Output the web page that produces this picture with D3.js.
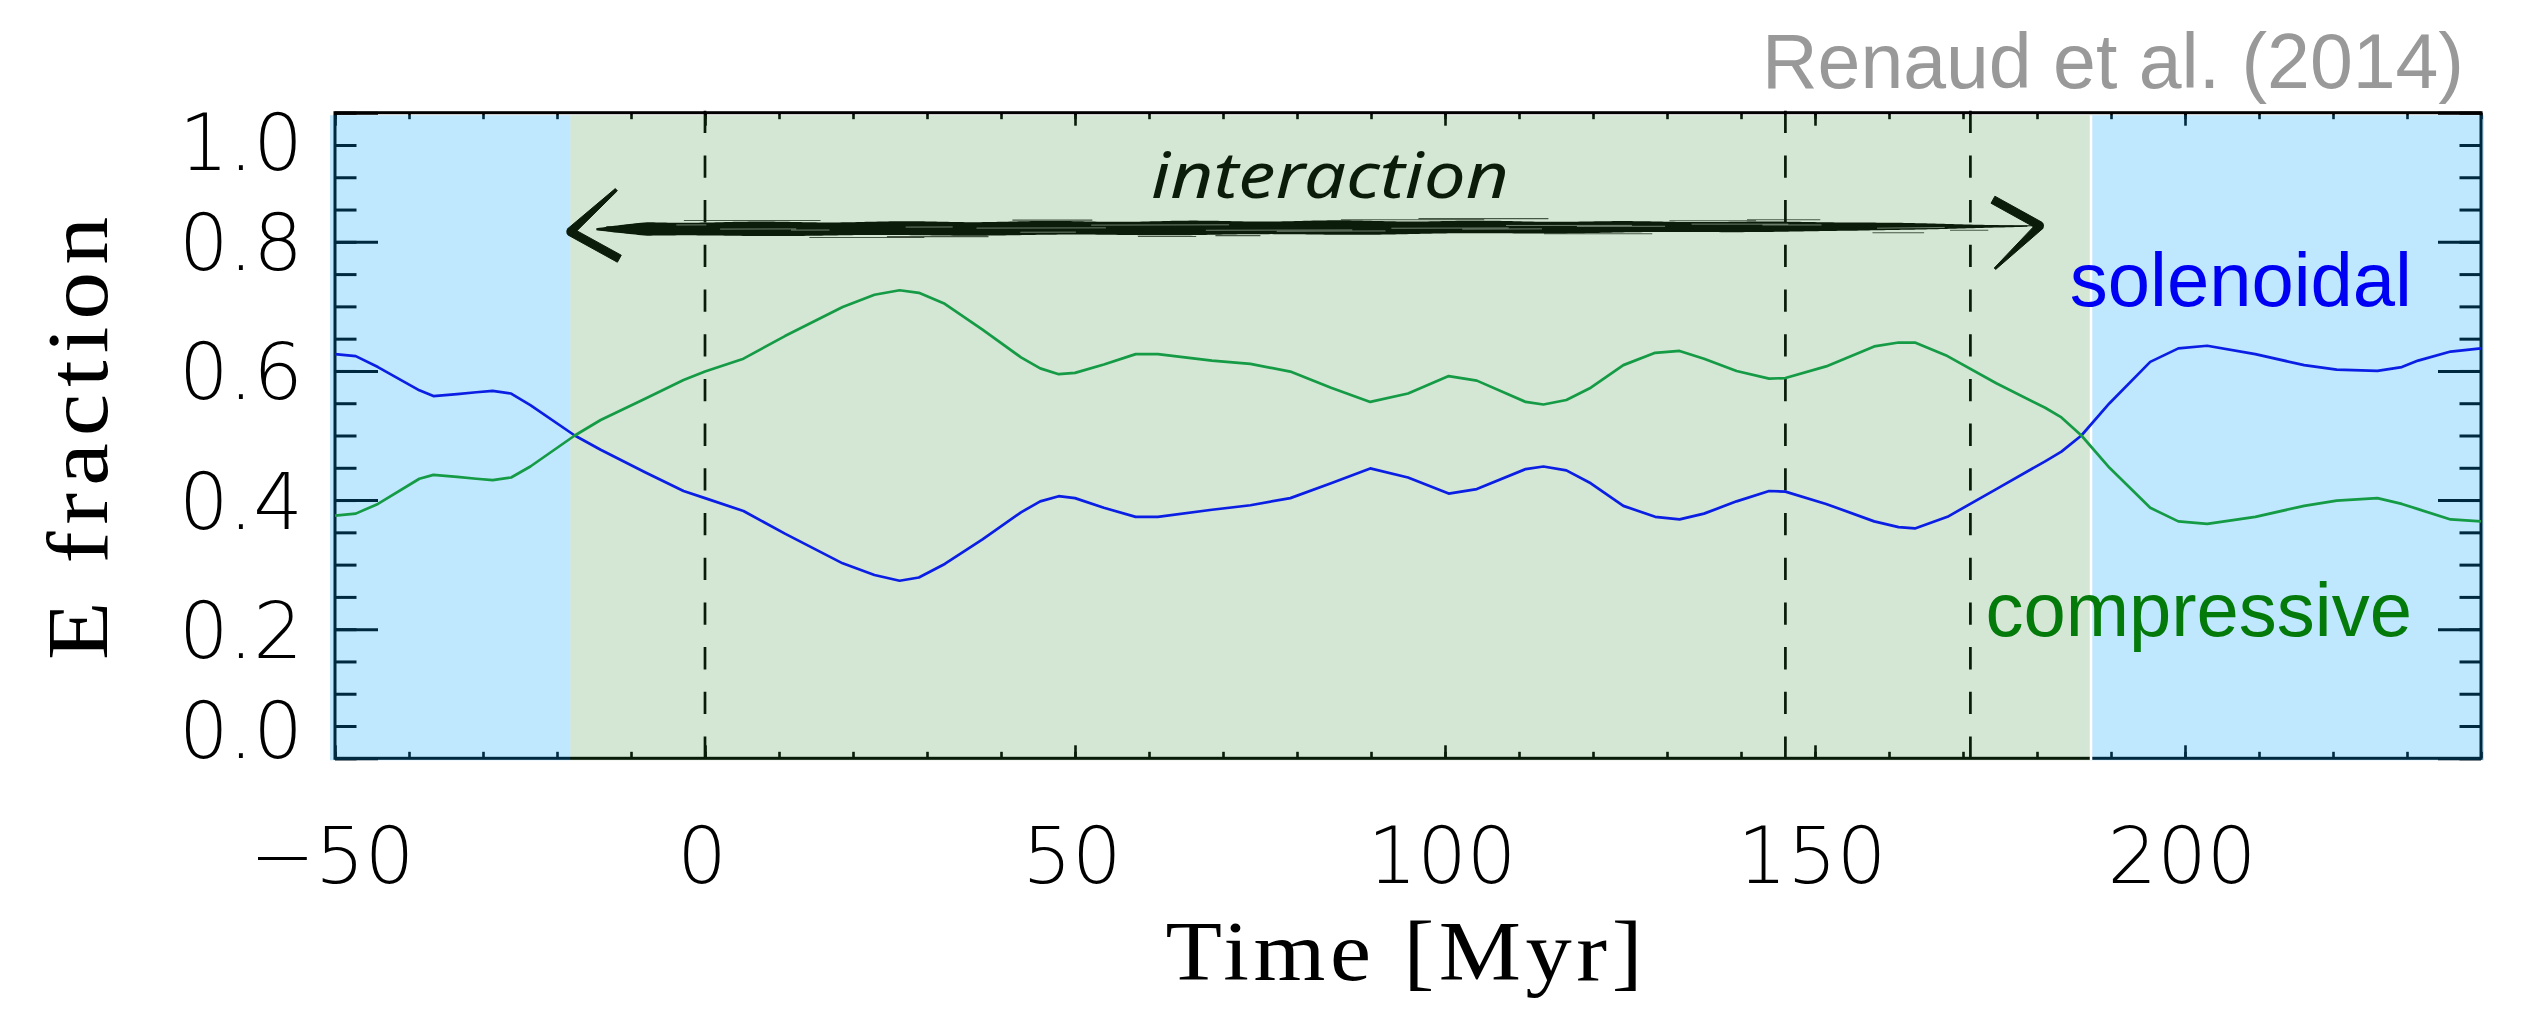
<!DOCTYPE html>
<html>
<head>
<meta charset="utf-8">
<script src="https://cdn.jsdelivr.net/npm/d3@7"></script>
<style>
  html, body { margin: 0; padding: 0; background: #fff; overflow: hidden; }
  svg { display: block; }
</style>
</head>
<body>
<svg id="chart" width="2521" height="1010"></svg>
<script>
// ---- data -------------------------------------------------------------
// Time samples [Myr]
const timeMyr = [
  -50, -47.2, -44.2, -38.6, -36.7, -33.5, -30.9, -28.7, -26.2, -23.6,
  -17.6, -14.1, -8.1, -2.9, 0, 5.2, 10.8, 18.6, 22.9, 26.3,
  28.9, 32.4, 37.5, 42.7, 45.3, 47.8, 50.0, 53.9, 58.2, 61.2,
  68.5, 73.7, 79.1, 84.6, 89.9, 95.0, 100.5, 104.3, 110.9, 113.3,
  116.4, 119.7, 124.1, 128.4, 131.7, 135.0, 139.4, 143.8, 146.0, 151.5,
  158.0, 161.3, 163.5, 167.9, 174.5, 181.1, 183.3, 186.0, 189.8, 195.3,
  199.1, 203.0, 209.5, 216.1, 220.5, 226.0, 229.3, 231.5, 235.9, 240
];
// Solenoidal fraction of the turbulent energy
const solenoidal = [
  0.626, 0.623, 0.606, 0.570, 0.561, 0.564, 0.567, 0.569, 0.565, 0.547,
  0.500, 0.478, 0.443, 0.414, 0.403, 0.383, 0.348, 0.302, 0.284, 0.275,
  0.280, 0.301, 0.339, 0.381, 0.398, 0.406, 0.403, 0.388, 0.374, 0.374,
  0.385, 0.392, 0.403, 0.426, 0.449, 0.435, 0.410, 0.417, 0.448, 0.452,
  0.446, 0.426, 0.391, 0.374, 0.370, 0.379, 0.398, 0.414, 0.413, 0.394,
  0.367, 0.358, 0.356, 0.374, 0.417, 0.460, 0.475, 0.500, 0.550, 0.614,
  0.635, 0.639, 0.626, 0.609, 0.602, 0.600, 0.606, 0.616, 0.630, 0.635
];
// Compressive fraction of the turbulent energy
const compressive = [
  0.376, 0.379, 0.394, 0.433, 0.439, 0.436, 0.433, 0.431, 0.435, 0.452,
  0.500, 0.524, 0.557, 0.586, 0.599, 0.619, 0.654, 0.699, 0.718, 0.725,
  0.721, 0.704, 0.664, 0.621, 0.604, 0.595, 0.597, 0.610, 0.626, 0.626,
  0.616, 0.611, 0.599, 0.574, 0.552, 0.565, 0.592, 0.585, 0.552, 0.548,
  0.555, 0.574, 0.609, 0.628, 0.631, 0.619, 0.600, 0.588, 0.589, 0.607,
  0.638, 0.644, 0.644, 0.623, 0.581, 0.543, 0.528, 0.500, 0.450, 0.388,
  0.367, 0.363, 0.374, 0.391, 0.399, 0.403, 0.394, 0.386, 0.370, 0.367
];
// Interaction phase (green band) and pericentre passages (dashed lines)
const interactionPhase = [-18.2, 187.3];
const passageTimes = [0, 146, 171];
// Axis ticks
const xTickValues = [-50, 0, 50, 100, 150, 200];
const yTickValues = [0.0, 0.2, 0.4, 0.6, 0.8, 1.0];
const xDomain = [-50, 240];
const yDomain = [0, 1];
// Interaction arrow: time span and level
const arrowSpan = [-18.2, 180.4];
const arrowLevel = 0.82;

// ---- layout -----------------------------------------------------------
const plot = { left: 335, right: 2481, top: 112.7, bottom: 758.3 };
const svg = d3.select('#chart');
const x = d3.scaleLinear().domain(xDomain).range([plot.left, plot.right]);
const y = d3.scaleLinear().domain(yDomain).range([plot.bottom, plot.top]);

const tickFont = '"DejaVu Sans", sans-serif';
const titleFont = '"Liberation Serif", "Times New Roman", serif';
const sansFont = '"Liberation Sans", Arial, sans-serif';
const ink = '#000';

// ---- frame, ticks and dashed markers (drawn under the tinted bands) ----
const gBase = svg.append('g');
const xMinor = d3.range(xDomain[0], xDomain[1] + 0.001, 10);
const yMinor = d3.range(0, 1.0001, 0.05);

function tickRow(axisFn, scale, values, size, transform, width) {
  const g = gBase.append('g').attr('transform', transform)
    .call(axisFn(scale).tickValues(values).tickSizeInner(size).tickSizeOuter(0).tickFormat(''));
  g.select('.domain').remove();
  g.selectAll('.tick text').remove();
  g.selectAll('.tick line').attr('stroke', ink).attr('stroke-width', width);
}
tickRow(d3.axisBottom, x, xMinor, -6.5, `translate(0,${plot.bottom})`, 2.6);
tickRow(d3.axisBottom, x, xTickValues, -13, `translate(0,${plot.bottom})`, 2.6);
tickRow(d3.axisTop, x, xMinor, -6.5, `translate(0,${plot.top})`, 2.6);
tickRow(d3.axisTop, x, xTickValues, -13, `translate(0,${plot.top})`, 2.6);
tickRow(d3.axisLeft, y, yMinor, -21.5, `translate(${plot.left},0)`, 3);
tickRow(d3.axisLeft, y, yTickValues, -43, `translate(${plot.left},0)`, 3);
tickRow(d3.axisRight, y, yMinor, -21.5, `translate(${plot.right},0)`, 3);
tickRow(d3.axisRight, y, yTickValues, -43, `translate(${plot.right},0)`, 3);

gBase.selectAll('line.passage').data(passageTimes).join('line')
  .attr('class', 'passage')
  .attr('x1', d => x(d)).attr('x2', d => x(d))
  .attr('y1', plot.top - 2).attr('y2', plot.bottom)
  .attr('stroke', ink).attr('stroke-width', 2.7)
  .attr('stroke-dasharray', '22.3,22.4');

gBase.append('rect')
  .attr('x', plot.left).attr('y', plot.top)
  .attr('width', plot.right - plot.left).attr('height', plot.bottom - plot.top)
  .attr('fill', 'none').attr('stroke', ink).attr('stroke-width', 3);

// ---- tinted bands: isolated (blue) and interaction (green) -------------
const bandTop = plot.top + 2.5, bandBottom = plot.bottom + 2;
const bands = [
  { x0: x(xDomain[0]) - 5, x1: x(interactionPhase[0]), fill: 'rgb(0,159,247)', op: 0.25 },
  { x0: x(interactionPhase[0]), x1: x(interactionPhase[1]), fill: 'rgb(40,130,40)', op: 0.2 },
  { x0: x(interactionPhase[1]), x1: x(xDomain[1]) + 3, fill: 'rgb(0,159,247)', op: 0.25 }
];
svg.append('g').selectAll('rect').data(bands).join('rect')
  .attr('x', d => d.x0).attr('width', d => d.x1 - d.x0)
  .attr('y', bandTop).attr('height', bandBottom - bandTop)
  .attr('fill', d => d.fill).attr('fill-opacity', d => d.op);
svg.append('line')
  .attr('x1', x(interactionPhase[1])).attr('x2', x(interactionPhase[1]))
  .attr('y1', bandTop).attr('y2', bandBottom)
  .attr('stroke', '#fff').attr('stroke-width', 2.5);

// ---- curves ---------------------------------------------------------
const line = d3.line().x(d => x(d[0])).y(d => y(d[1]));
const series = [
  { values: solenoidal, color: '#0b1fe4' },
  { values: compressive, color: '#159b45' }
];
svg.append('g').selectAll('path').data(series).join('path')
  .attr('d', s => line(timeMyr.map((t, i) => [t, s.values[i]])))
  .attr('fill', 'none').attr('stroke', s => s.color)
  .attr('stroke-width', 2.7).attr('stroke-linejoin', 'round');

// ---- tick labels -------------------------------------------------------
const fmtY = d3.format('.1f');
const labelSize = 78, halfDigit = 0.365 * labelSize;
svg.append('g').selectAll('text').data(yTickValues).join('text')
  .attr('x', 303)
  .attr('y', d => Math.min(Math.max(y(d), plot.top + halfDigit), plot.bottom - halfDigit) + halfDigit)
  .attr('text-anchor', 'end')
  .attr('font-family', tickFont).attr('font-weight', 200).attr('font-size', labelSize)
  .attr('fill', ink)
  .text(d => fmtY(d));
svg.append('g').selectAll('text').data(xTickValues).join('text')
  .attr('x', d => x(d) - 3)
  .attr('y', 883)
  .attr('text-anchor', 'middle')
  .attr('font-family', tickFont).attr('font-weight', 200).attr('font-size', labelSize)
  .attr('fill', ink)
  .text(d => d < 0 ? '\u2212' + Math.abs(d) : String(d));

// ---- axis titles (serif face, slightly widened along the reading direction) ----
const titleStretch = 1.1;
svg.append('text')
  .attr('transform', `translate(${(plot.left + plot.right) / 2 - 4},980) scale(${titleStretch},1)`)
  .attr('text-anchor', 'middle')
  .attr('font-family', titleFont).attr('font-size', 84)
  .attr('textLength', 477 / titleStretch).attr('lengthAdjust', 'spacing')
  .attr('fill', ink).text('Time [Myr]');
svg.append('text')
  .attr('transform', `translate(107,${(plot.top + plot.bottom) / 2 + 3}) rotate(-90) scale(${titleStretch},1)`)
  .attr('text-anchor', 'middle')
  .attr('font-family', titleFont).attr('font-size', 87)
  .attr('textLength', 443 / titleStretch).attr('lengthAdjust', 'spacing')
  .attr('fill', ink).text('E fraction');

// ---- series names and reference ------------------------------------
svg.append('text')
  .attr('x', 2412).attr('y', 306).attr('text-anchor', 'end')
  .attr('font-family', sansFont).attr('font-size', 76)
  .attr('fill', '#0000f2').text('solenoidal');
svg.append('text')
  .attr('x', 2412).attr('y', 636).attr('text-anchor', 'end')
  .attr('font-family', sansFont).attr('font-size', 76)
  .attr('fill', '#037a0a').text('compressive');
svg.append('text')
  .attr('x', 2464).attr('y', 88).attr('text-anchor', 'end')
  .attr('font-family', sansFont).attr('font-size', 77)
  .attr('fill', '#999').text('Renaud et al. (2014)');

// ---- brush-stroke arrow marking the interaction -------------------------
const brush = '#0c1c0a';
const gArrow = svg.append('g');
const tipL = [x(arrowSpan[0]), y(arrowLevel) + 2.8];
const tipR = [x(arrowSpan[1]), y(arrowLevel) - 3.2];
const s0 = tipL[0] + 26, s1 = tipR[0] - 12;
const mid = px => tipL[1] - 2.5 - 3 * (px - s0) / (s1 - s0);
function halfWidth(px) {
  if (px < s0 + 50) return 1 + 5.8 * (px - s0) / 50;
  if (px < 1350) return 6.8;
  if (px < 1850) return 6.8 - 2.3 * (px - 1350) / 500;
  return Math.max(0.6, 4.5 - 3.9 * (px - 1850) / (s1 - 1850));
}
const shaftX = d3.range(s0, s1 + 0.1, 3);
const shaftArea = d3.area()
  .x(px => px)
  .y0(px => mid(px) - halfWidth(px) * (1 + 0.08 * Math.sin(px / 23)))
  .y1(px => mid(px) + halfWidth(px) * (1 + 0.07 * Math.cos(px / 31)));
gArrow.append('path').attr('d', shaftArea(shaftX)).attr('fill', brush);

// bristle texture: a few light gaps inside the stroke and loose hairs at its edges
const frac = v => v - Math.floor(v);
const gaps = d3.range(16).map(k => {
  const start = s0 + 80 + frac(k * 0.6180339) * (s1 - s0 - 160);
  const len = 30 + frac(k * 0.4142) * 120;
  const off = (frac(k * 0.7320508) - 0.5) * 1.2;
  return { start, len, off };
});
gArrow.selectAll('line.gap').data(gaps).join('line').attr('class', 'gap')
  .attr('x1', d => d.start).attr('x2', d => Math.min(d.start + d.len, s1))
  .attr('y1', d => mid(d.start) + d.off * halfWidth(d.start))
  .attr('y2', d => mid(Math.min(d.start + d.len, s1)) + d.off * halfWidth(Math.min(d.start + d.len, s1)))
  .attr('stroke', '#d4e6d4').attr('stroke-width', 0.9).attr('opacity', 0.55);
const hairs = d3.range(14).map(k => {
  const start = s0 + 10 + frac(k * 0.381966) * (s1 - s0 - 40);
  const len = 30 + frac(k * 0.2360679) * 120;
  const side = k % 2 ? 1 : -1;
  return { start, len, side, gap: 0.5 + frac(k * 0.5772) * 2 };
});
gArrow.selectAll('line.hair').data(hairs).join('line').attr('class', 'hair')
  .attr('x1', d => d.start).attr('x2', d => Math.min(d.start + d.len, s1 + 8))
  .attr('y1', d => mid(d.start) + d.side * (halfWidth(d.start) + d.gap))
  .attr('y2', d => mid(d.start) + d.side * (halfWidth(d.start) + d.gap))
  .attr('stroke', brush).attr('stroke-width', 1.1).attr('opacity', 0.7);
// thin trailing line reaching the right tip
gArrow.append('line')
  .attr('x1', s1 - 60).attr('x2', tipR[0] - 4)
  .attr('y1', mid(s1 - 60)).attr('y2', tipR[1])
  .attr('stroke', brush).attr('stroke-width', 1.2);

// arrowheads as tapered strokes
function taper(p0, p1, w0, w1) {
  const dx = p1[0] - p0[0], dy = p1[1] - p0[1];
  const L = Math.hypot(dx, dy), nx = -dy / L, ny = dx / L;
  return [
    [p0[0] + nx * w0 / 2, p0[1] + ny * w0 / 2],
    [p1[0] + nx * w1 / 2, p1[1] + ny * w1 / 2],
    [p1[0] - nx * w1 / 2, p1[1] - ny * w1 / 2],
    [p0[0] - nx * w0 / 2, p0[1] - ny * w0 / 2]
  ];
}
const barbs = [
  { a: tipL, b: [tipL[0] + 46, tipL[1] - 42], w0: 8, w1: 3 },
  { a: tipL, b: [tipL[0] + 49, tipL[1] + 27], w0: 8, w1: 8 },
  { a: tipR, b: [tipR[0] - 47, tipR[1] - 26], w0: 8, w1: 8 },
  { a: tipR, b: [tipR[0] - 45, tipR[1] + 43], w0: 8, w1: 2 }
];
gArrow.selectAll('path.barb').data(barbs).join('path').attr('class', 'barb')
  .attr('d', d => 'M' + taper(d.a, d.b, d.w0, d.w1).join('L') + 'Z')
  .attr('fill', brush).attr('stroke', brush).attr('stroke-width', 1).attr('stroke-linejoin', 'round');
gArrow.selectAll('circle.knot').data([tipL, tipR]).join('circle').attr('class', 'knot')
  .attr('cx', d => d[0]).attr('cy', d => d[1]).attr('r', 4).attr('fill', brush);

gArrow.append('text')
  .attr('x', 1151).attr('y', 198)
  .attr('font-family', '"Noto Sans", "DejaVu Sans", sans-serif')
  .attr('font-style', 'italic').attr('font-weight', 400).attr('font-size', 64)
  .attr('textLength', 358).attr('lengthAdjust', 'spacingAndGlyphs')
  .attr('fill', brush).text('interaction');
</script>
</body>
</html>
